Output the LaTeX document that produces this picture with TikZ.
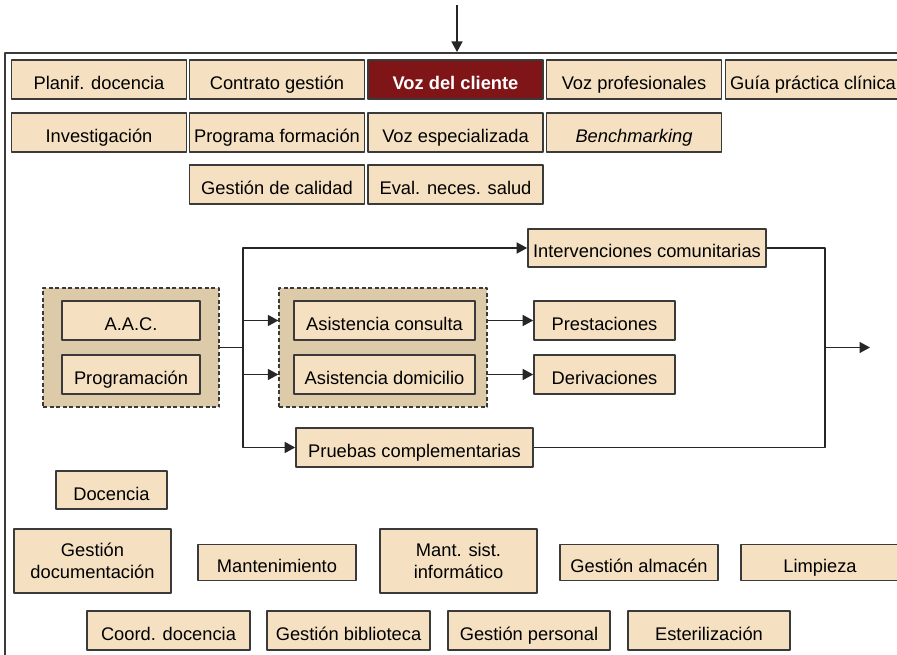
\documentclass[tikz,border=0pt]{standalone}
\usepackage{fontspec}
\setmainfont{Liberation Sans}
\usetikzlibrary{arrows.meta}
\definecolor{boxfill}{HTML}{F5E1C1}
\definecolor{groupfill}{HTML}{DDCAA8}
\definecolor{boxline}{HTML}{3A3A3A}
\definecolor{flowline}{HTML}{262626}
\definecolor{clientred}{HTML}{801517}

\begin{document}
\begin{tikzpicture}[
  x=1pt,
  y=-1pt,
  line join=round,
  font=\fontsize{18.3}{22}\selectfont,
  twobox/.style={draw=boxline,fill=boxfill,line width=1.6pt,inner sep=0pt,
    minimum width=175pt,minimum height=39pt,align=center},
  box/.style={twobox,text height=20pt,text depth=0pt},
  groupbox/.style={draw=boxline,fill=groupfill,line width=1.3pt,
    dash pattern=on 4pt off 2.5pt,inner sep=0pt},
  frame/.style={draw=boxline,line width=1.6pt},
  conn/.style={draw=flowline,line width=1.5pt},
  arrow/.style={conn,-{Triangle[length=10.5pt,width=11pt]}}
]
  % Match the artwork frame.
  \useasboundingbox (0,0) rectangle (897,655);

  % Open frame round the process map, entry arrow from above.
  \coordinate (fr0) at (5,660);
  \coordinate (fr1) at (5,53);
  \coordinate (fr2) at (900,53);
  \coordinate (entry) at (457,5);
  \coordinate (frtop) at (457,52);
  \draw[frame] (fr0) -- (fr1) -- (fr2);
  \draw[arrow] (entry) -- (frtop);

  % Strategic processes, three rows.
  \node[box] (pd) at (99,79.5) {Planif. docencia};
  \node[box] (cg) at (277,79.5) {Contrato gestión};
  \node[box,fill=clientred,text=white] (vc) at (455.5,79.5) {\bfseries Voz del cliente};
  \node[box] (vp) at (634,79.5) {Voz profesionales};
  \node[box] (gpc) at (813,79.5) {Guía práctica clínica};
  \node[box] (inv) at (99,132.5) {Investigación};
  \node[box] (pf) at (277,132.5) {Programa formación};
  \node[box] (ve) at (455.5,132.5) {Voz especializada};
  \node[box] (bm) at (634,132.5) {\itshape Benchmarking};
  \node[box] (gc) at (277,184.5) {Gestión de calidad};
  \node[box] (ens) at (455.5,184.5) {Eval. neces. salud};

  % Key processes: grouped boxes first, inner boxes on top.
  \node[groupbox,minimum width=176pt,minimum height=119pt] (grpA) at (131,347.5) {};
  \node[groupbox,minimum width=208pt,minimum height=119pt] (grpB) at (383,347.5) {};
  \node[box,minimum width=138pt] (aac) at (131,320.5) {A.A.C.};
  \node[box,minimum width=138pt] (prog) at (131,374.5) {Programación};
  \node[box,minimum width=181pt] (ac) at (384.5,320.5) {Asistencia consulta};
  \node[box,minimum width=181pt] (ad) at (384.5,374.5) {Asistencia domicilio};
  \node[box,minimum width=238pt,minimum height=38pt] (ic) at (647,248) {Intervenciones comunitarias};
  \node[box,minimum width=141pt] (pr) at (604.5,320.5) {Prestaciones};
  \node[box,minimum width=141pt] (dv) at (604.5,374.5) {Derivaciones};
  \node[box,minimum width=237pt] (pc) at (414.5,447.5) {Pruebas complementarias};

  \coordinate (split) at (243,347.5);
  \coordinate (join) at (825,347.5);
  \coordinate (out) at (870,347.5);

  % Flow through the key processes.
  \draw[conn] (grpA.east) -- (split);
  \draw[arrow] (split) |- (ic.west);
  \draw[arrow] (split) |- (pc.west);
  \draw[arrow] (split |- ac) -- (grpB.west |- ac);
  \draw[arrow] (split |- ad) -- (grpB.west |- ad);
  \draw[arrow] (grpB.east |- ac) -- (pr.west);
  \draw[arrow] (grpB.east |- ad) -- (dv.west);
  \draw[conn] (ic.east) -| (join);
  \draw[conn] (pc.east) -| (join);
  \draw[arrow] (join) -- (out);

  % Support processes.
  \node[box,minimum width=111pt,minimum height=38pt] (doc) at (111.5,490) {Docencia};
  \node[twobox,minimum width=157pt,minimum height=64pt] (gdoc) at (92.5,561) {Gestión\\documentación};
  \node[box,minimum width=158pt,minimum height=36pt] (mant) at (277,562.5) {Mantenimiento};
  \node[twobox,minimum width=157pt,minimum height=64pt] (msi) at (458.5,561) {Mant. sist.\\informático};
  \node[box,minimum width=158pt,minimum height=36pt] (galm) at (639,562.5) {Gestión almacén};
  \node[box,minimum width=158pt,minimum height=36pt] (limp) at (820,562.5) {Limpieza};
  \node[box,minimum width=163pt] (cdoc) at (168.5,630.5) {Coord. docencia};
  \node[box,minimum width=163pt] (gbib) at (348.5,630.5) {Gestión biblioteca};
  \node[box,minimum width=162pt] (gper) at (529,630.5) {Gestión personal};
  \node[box,minimum width=162pt] (est) at (709,630.5) {Esterilización};
\end{tikzpicture}
\end{document}
